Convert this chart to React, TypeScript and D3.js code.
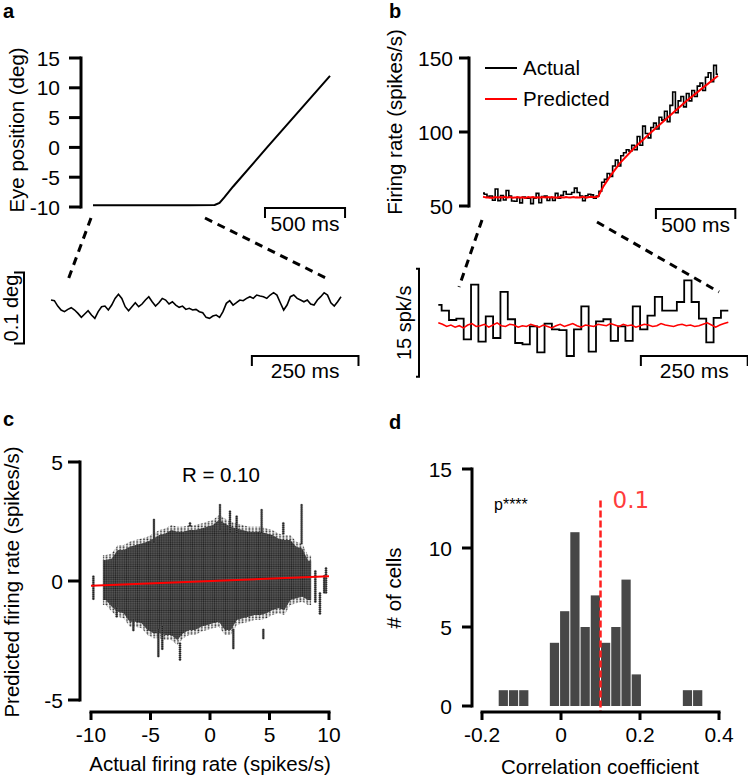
import React from "react";
import * as d3 from "d3";

// ---------------- DATA ----------------
// Panel a (top): eye position (deg) vs time (ms)
const eyeTimes = [0, 200, 400, 600, 760, 790, 820, 874, 1087, 1300, 1480];
const eyeDeg = [-9.7, -9.7, -9.7, -9.7, -9.65, -9.3, -8.4, -6.6, 0, 6.5, 12];
const eyeTicks = [-10, -5, 0, 5, 10, 15];

// Panel a (bottom): zoomed eye position (millideg, relative), evenly sampled over 680 ms
const eyeZoomMdeg = [
  9.4, 8.5, 0.9, -4.7, -7.0, -3.8, -1.4, -4.7, -9.4, -15.0, -10.3, -5.6, -11.7, -16.4, -7.0, 0, 0.9,
  -4.7, 2.3, 11.7, 17.4, 11.7, 0, -5.6, 0, 5.6, 0, 3.8, 9.4, 14.1, 7.0, 0.9, 5.6, 11.7, 9.4, 3.8, 7.0,
  2.3, -0.9, 0.9, -3.8, -2.3, -4.7, -3.8, -7.0, -8.5, -15.0, -16.4, -13.1, -11.7, -15.0, -7.0, 4.7,
  8.5, 2.3, 5.6, 9.4, 8.5, 11.7, 14.1, 11.7, 16.4, 15.0, 14.1, 11.7, 16.4, 19.7, 16.4, 5.6, -4.7, 2.3,
  14.1, 16.4, 11.7, 9.4, 7.0, 9.4, 3.8, 2.3, 9.4, 14.1, 19.7, 16.4, 5.6, 0.9, 7.0, 14.1,
];
const EYE_ZOOM_SPAN_MS = 680;

// Panel b: firing rate (spikes/s). Bins: first partial bin 7.8 ms, then 17.2 ms bins
const FIRST_BIN_MS = 7.8;
const BIN_MS = 17.2;
const actualZoom = [
  58.7, 57.9, 56.6, 56.8, 53.9, 61.5, 53.6, 57.1, 54.1, 60.5, 56.7, 53.4, 53.2, 55.7, 52.1, 56.1,
  55.3, 55.2, 51.6, 55.3, 58.5, 52.2, 56.4, 56.7, 53.7, 55.7, 53.7, 58.5, 55.3, 57.2, 59.8, 57.9,
  57.9, 59.1, 62.1, 59.1, 56.8, 53.5, 56.9, 57.9,
];
const actualFlatExtra = [57.5, 55.2, 56.8];
const actualRise = [
  60, 66, 68, 72, 70, 77, 81, 77, 84, 86, 88, 87, 91, 88, 97, 91, 104, 99, 96, 103, 106, 102, 110,
  108, 114, 107, 118, 127, 113, 121, 124, 117, 126, 121, 128, 124, 131, 133, 128, 137, 140, 134, 145,
  139,
];
const predZoom = [
  56.2, 56.0, 55.7, 55.9, 55.6, 55.8, 55.5, 55.9, 56.1, 55.7, 55.8, 56.0, 55.6, 55.9, 56.2, 55.8,
  55.7, 56.0, 55.9, 55.6, 55.8, 55.7, 56.0, 55.8, 55.6, 55.9, 55.7, 55.5, 55.8, 56.0, 55.7, 55.9,
  56.1, 55.8, 55.6, 55.9, 55.8, 55.7, 56.0, 55.9, 55.8, 56.1, 55.9, 55.7, 56.0, 55.8, 55.9, 55.6,
  55.8, 56.0, 55.9, 55.7, 55.8, 56.1, 55.9, 55.8, 55.7, 55.9, 56.0, 55.8, 55.9, 55.7, 55.8, 56.0,
  56.2, 55.9, 55.6, 55.9, 56.1, 56.3,
];
const predRiseT = [700, 725, 757, 800, 862, 960, 1061, 1176, 1281, 1386, 1480];
const predRiseV = [55.9, 56.3, 63, 70, 79, 90, 100, 111, 121, 130, 138];
const rateTicks = [50, 100, 150];
const TRACE_END_MS = 1480;
const ZOOM_END_MS = 678.6;

// Panel c: scatter cloud envelope per 0.5-wide column (centre, top, bottom), plus sparse stripes
const cloudX = [
  -8.75, -8.25, -7.75, -7.25, -6.75, -6.25, -5.75, -5.25, -4.75, -4.25, -3.75, -3.25, -2.75, -2.25,
  -1.75, -1.25, -0.75, -0.25, 0.25, 0.75, 1.25, 1.75, 2.25, 2.75, 3.25, 3.75, 4.25, 4.75, 5.25, 5.75,
  6.25, 6.75, 7.25, 7.75, 8.25,
];
const cloudTop = [
  0.88, 0.95, 1.3, 1.3, 1.44, 1.51, 1.58, 1.65, 1.79, 1.93, 2.0, 2.14, 2.07, 2.07, 2.14, 2.14, 2.21,
  2.28, 2.35, 2.56, 2.42, 2.28, 2.21, 2.14, 2.07, 2.07, 2.07, 2.0, 1.93, 1.79, 1.72, 1.72, 1.44, 1.37,
  0.85,
];
const cloudBottom = [
  -0.8, -1.08, -1.29, -1.36, -1.71, -1.71, -1.78, -2.06, -2.2, -2.2, -2.27, -2.27, -2.48, -2.2, -2.06,
  -2.06, -1.92, -1.85, -1.78, -1.71, -2.06, -2.06, -1.64, -1.57, -1.5, -1.43, -1.43, -1.36, -1.22,
  -1.15, -1.22, -0.8, -0.73, -0.66, -0.8,
];
const stripeX = [-9.8, -7.84, -6.44, -4.71, -4.34, -4.01, -2.52, -1.68, 0.84, 1.68, 1.96, 2.24, 4.34, 4.48, 6.16, 7.7, 8.85, 9.24, 9.75, 9.6];
const stripeTop = [0.18, -1.15, -1.64, 2.56, -2.06, -1.92, -2.63, 2.42, 3.19, 2.91, -2.06, 2.7, 2.98, -2.06, 2.42, 3.19, 0.4, -0.52, 0.53, 0.2];
const stripeBottom = [-0.8, -1.5, -2.13, 1.58, -3.19, -2.91, -3.33, 2.3, 2.14, 2.0, -2.84, 2.0, 2.0, -2.41, 2.0, 1.58, -0.9, -1.36, -0.52, -0.5];
const fitX = [-10, 10];
const fitY = [-0.2, 0.2];
const cTicksX = [-10, -5, 0, 5, 10];
const cTicksY = [-5, 0, 5];

// Panel d: histogram of correlation coefficients
const HIST_START = -0.159;
const HIST_WIDTH = 0.0259;
const histCounts = [1, 1, 1, 0, 0, 4, 6, 11, 5, 7, 4, 5, 8, 2, 0, 0, 0, 0, 1, 1];
const dTicksX = [-0.2, 0, 0.2, 0.4];
const dTicksY = [0, 5, 10, 15];
const MEAN_R = 0.1;

// ---------------- STYLE ----------------
const FONT = "'Liberation Sans', Arial, Helvetica, sans-serif";
const FS = 20;
const TFS = 21;
const RED = "#ff0000";

function binStart(i: number) {
  return i === 0 ? 0 : FIRST_BIN_MS + (i - 1) * BIN_MS;
}

function stepPts(vals: number[], end: number): [number, number][] {
  const pts: [number, number][] = [];
  vals.forEach((v, i) => {
    const t = binStart(i);
    if (t < end) pts.push([t, v]);
  });
  pts.push([end, pts[pts.length - 1][1]]);
  return pts;
}

function LeftAxis({ scale, x, ticks, len = 12, gap = 9, fmt = (d: number) => String(d) }: any) {
  const [r0, r1] = scale.range();
  return (
    <g>
      <line x1={x} x2={x} y1={Math.min(r0, r1)} y2={Math.max(r0, r1)} stroke="#000" strokeWidth={3} strokeLinecap="square" />
      {ticks.map((t: number) => (
        <g key={t}>
          <line x1={x - len} x2={x} y1={scale(t)} y2={scale(t)} stroke="#000" strokeWidth={3} />
          <text x={x - len - gap} y={scale(t)} dy="0.36em" textAnchor="end" fontSize={TFS} fontFamily={FONT}>
            {fmt(t)}
          </text>
        </g>
      ))}
    </g>
  );
}

function BottomAxis({ scale, y, ticks, len = 8, labelY, fmt = (d: number) => String(d) }: any) {
  const [r0, r1] = scale.range();
  return (
    <g>
      <line x1={r0} x2={r1} y1={y} y2={y} stroke="#000" strokeWidth={3} strokeLinecap="square" />
      {ticks.map((t: number) => (
        <g key={t}>
          <line x1={scale(t)} x2={scale(t)} y1={y} y2={y + len} stroke="#000" strokeWidth={3} />
          <text x={scale(t)} y={labelY} textAnchor="middle" fontSize={TFS} fontFamily={FONT}>
            {fmt(t)}
          </text>
        </g>
      ))}
    </g>
  );
}

function HScaleBar({ x1, x2, y, label, labelY }: any) {
  return (
    <g>
      <path d={`M${x1},${y + 10}V${y}H${x2}V${y + 10}`} fill="none" stroke="#000" strokeWidth={2} />
      <text x={(x1 + x2) / 2} y={labelY} textAnchor="middle" fontSize={TFS} fontFamily={FONT}>
        {label}
      </text>
    </g>
  );
}

function VScaleBar({ x, y1, y2, tick, label, labelX }: any) {
  return (
    <g>
      <path d={`M${x - tick},${y1}H${x}V${y2}H${x - tick}`} fill="none" stroke="#000" strokeWidth={2} />
      <text
        transform={`translate(${labelX},${(y1 + y2) / 2}) rotate(-90)`}
        textAnchor="middle"
        fontSize={FS}
        fontFamily={FONT}
      >
        {label}
      </text>
    </g>
  );
}

function YTitle({ x, y, text }: any) {
  return (
    <text transform={`translate(${x},${y}) rotate(-90)`} textAnchor="middle" fontSize={FS + 0.5} fontFamily={FONT}>
      {text}
    </text>
  );
}

function PanelLabel({ x, y, t }: any) {
  return (
    <text x={x} y={y} fontSize={20} fontWeight="bold" fontFamily={FONT}>
      {t}
    </text>
  );
}

export default function App() {
  // scales
  const xA = d3.scaleLinear().domain([0, TRACE_END_MS]).range([93, 330]);
  const yA = d3.scaleLinear().domain([-10, 15]).range([207, 58]);
  const xAz = d3.scaleLinear().domain([0, EYE_ZOOM_SPAN_MS]).range([51, 341]);
  const yAz = d3.scaleLinear().domain([0, 100]).range([306.7, 235.7]);
  const xB = d3.scaleLinear().domain([0, TRACE_END_MS]).range([483, 718]);
  const yB = d3.scaleLinear().domain([50, 150]).range([206, 58]);
  const xBz = d3.scaleLinear().domain([0, ZOOM_END_MS]).range([438.3, 728.3]);
  const yBz = d3.scaleLinear().domain([56, 71]).range([324.3, 216.3]);
  const xC = d3.scaleLinear().domain([-10, 10]).range([91, 329]);
  const yC = d3.scaleLinear().domain([-5, 5]).range([700, 462]);
  const xD = d3.scaleLinear().domain([-0.2, 0.4]).range([482, 719]);
  const yD = d3.scaleLinear().domain([0, 15]).range([706, 469]);

  // panel a paths
  const eyePath = d3
    .line<number>()
    .x((_, i) => xA(eyeTimes[i]))
    .y((d) => yA(d))(eyeDeg) as string;
  const nz = eyeZoomMdeg.length;
  const eyeZoomPath = d3
    .line<number>()
    .x((_, i) => xAz((i * EYE_ZOOM_SPAN_MS) / (nz - 1)))
    .y((d) => yAz(d))(eyeZoomMdeg) as string;

  // panel b paths
  const stepLineTop = d3
    .line<[number, number]>()
    .x((d) => xB(d[0]))
    .y((d) => yB(d[1]))
    .curve(d3.curveStepAfter);
  const allActual = [...actualZoom, ...actualFlatExtra, ...actualRise];
  const actualTopPath = stepLineTop(stepPts(allActual, TRACE_END_MS)) as string;
  const np = predZoom.length;
  const predTopPts: [number, number][] = [
    ...predZoom.map((v, i) => [(i * 680) / (np - 1), v] as [number, number]),
    ...predRiseT.map((t, i) => [t, predRiseV[i]] as [number, number]),
  ];
  const predTopPath = d3
    .line<[number, number]>()
    .x((d) => xB(d[0]))
    .y((d) => yB(d[1]))(predTopPts) as string;

  const actualZoomPath = d3
    .line<[number, number]>()
    .x((d) => xBz(d[0]))
    .y((d) => yBz(d[1]))
    .curve(d3.curveStepAfter)(stepPts(actualZoom, ZOOM_END_MS)) as string;
  const predZoomPath = d3
    .line<number>()
    .x((_, i) => xBz((i * ZOOM_END_MS) / (np - 1)))
    .y((d) => yBz(d))(predZoom) as string;

  // panel c: cloud envelope as an area (column edges at centre ± 0.25)
  const envPts: { x: number; t: number; b: number }[] = [];
  cloudX.forEach((cx, i) => {
    if (i === 0) envPts.push({ x: cx - 0.25, t: cloudTop[i], b: cloudBottom[i] });
    envPts.push({ x: cx, t: cloudTop[i], b: cloudBottom[i] });
    if (i === cloudX.length - 1) envPts.push({ x: cx + 0.25, t: cloudTop[i], b: cloudBottom[i] });
  });
  const coreArea = d3
    .area<{ x: number; t: number; b: number }>()
    .x((d) => xC(d.x))
    .y0((d) => yC(d.b))
    .y1((d) => yC(d.t))(envPts) as string;
  const fringeArea = d3
    .area<{ x: number; t: number; b: number }>()
    .x((d) => xC(d.x))
    .y0((d) => yC(d.b) + 5)
    .y1((d) => yC(d.t) - 5)(envPts) as string;
  const stripeDots: [number, number][] = [];
  stripeX.forEach((sx, i) => {
    const px = xC(sx);
    for (let py = yC(stripeTop[i]); py <= yC(stripeBottom[i]) + 0.01; py += 2) stripeDots.push([px, py]);
  });

  return (
    <div style={{ position: "absolute", left: 0, top: 0 }}>
      <svg width={748} height={778} style={{ display: "block", background: "#fff" }}>
        <defs>
          <pattern id="dotsDense" width={2.2} height={2.2} patternUnits="userSpaceOnUse">
            <rect width={2.2} height={2.2} fill="#5e5e5e" />
            <circle cx={1.1} cy={1.1} r={0.85} fill="#222" />
          </pattern>
          <pattern id="dotsSparse" width={3.4} height={2.6} patternUnits="userSpaceOnUse">
            <circle cx={1.2} cy={1.2} r={1.0} fill="#2a2a2a" stroke="#999" strokeWidth={0.3} />
          </pattern>
        </defs>

        {/* ---------- Panel a ---------- */}
        <PanelLabel x={3} y={18} t="a" />
        <LeftAxis scale={yA} x={81} ticks={eyeTicks} />
        <YTitle x={24} y={130} text="Eye position (deg)" />
        <path d={eyePath} fill="none" stroke="#000" strokeWidth={2} />
        <HScaleBar x1={xA(1074)} x2={xA(1574)} y={208} label="500 ms" labelY={231} />
        <line x1={91} y1={218} x2={68} y2={280} stroke="#000" strokeWidth={3} strokeDasharray="8,6" />
        <line x1={205} y1={218} x2={330} y2={280} stroke="#000" strokeWidth={3} strokeDasharray="8,6" />
        <path d={eyeZoomPath} fill="none" stroke="#000" strokeWidth={1.6} />
        <VScaleBar x={24} y1={yAz(48)} y2={yAz(-52)} tick={10} label="0.1 deg" labelX={18} />
        <HScaleBar x1={xAz(471)} x2={xAz(721)} y={356} label="250 ms" labelY={378} />

        {/* ---------- Panel b ---------- */}
        <PanelLabel x={389} y={18} t="b" />
        <LeftAxis scale={yB} x={469} ticks={rateTicks} len={10} gap={6} />
        <YTitle x={402} y={122} text="Firing rate (spikes/s)" />
        <path d={actualTopPath} fill="none" stroke="#000" strokeWidth={1.6} />
        <path d={predTopPath} fill="none" stroke={RED} strokeWidth={2} />
        <line x1={485} x2={517} y1={68} y2={68} stroke="#000" strokeWidth={2} />
        <text x={523} y={75} fontSize={FS + 0.5} fontFamily={FONT}>
          Actual
        </text>
        <line x1={485} x2={517} y1={99} y2={99} stroke={RED} strokeWidth={2} />
        <text x={523} y={106} fontSize={FS + 0.5} fontFamily={FONT}>
          Predicted
        </text>
        <HScaleBar x1={xB(1089)} x2={xB(1589)} y={209} label="500 ms" labelY={232} />
        <line x1={482} y1={220} x2={459} y2={287} stroke="#000" strokeWidth={3} strokeDasharray="8,6" />
        <line x1={597} y1={222} x2={719} y2={292} stroke="#000" strokeWidth={3} strokeDasharray="8,6" />
        <path d={actualZoomPath} fill="none" stroke="#000" strokeWidth={1.8} />
        <path d={predZoomPath} fill="none" stroke={RED} strokeWidth={1.6} />
        <VScaleBar x={419} y1={yBz(63.7)} y2={yBz(48.7)} tick={3} label="15 spk/s" labelX={411} />
        <HScaleBar x1={xBz(474)} x2={xBz(724)} y={356} label="250 ms" labelY={378} />

        {/* ---------- Panel c ---------- */}
        <PanelLabel x={3} y={426} t="c" />
        <path d={fringeArea} fill="url(#dotsSparse)" />
        <path d={coreArea} fill="url(#dotsDense)" />
        <g>
          {stripeDots.map((p, i) => (
            <circle key={i} cx={p[0]} cy={p[1]} r={1.2} fill="#1e1e1e" stroke="#8a8a8a" strokeWidth={0.3} />
          ))}
        </g>
        <line x1={xC(fitX[0])} y1={yC(fitY[0])} x2={xC(fitX[1])} y2={yC(fitY[1])} stroke={RED} strokeWidth={2} />
        <LeftAxis scale={yC} x={80} ticks={cTicksY} len={12} gap={5} />
        <BottomAxis scale={xC} y={712} ticks={cTicksX} labelY={742} />
        <YTitle x={19} y={582} text="Predicted firing rate (spikes/s)" />
        <text x={210} y={771} textAnchor="middle" fontSize={FS + 0.5} fontFamily={FONT}>
          Actual firing rate (spikes/s)
        </text>
        <text x={221} y={482} textAnchor="middle" fontSize={FS + 0.5} fontFamily={FONT}>
          R = 0.10
        </text>

        {/* ---------- Panel d ---------- */}
        <PanelLabel x={389} y={429} t="d" />
        <g>
          {histCounts.map((c, i) =>
            c > 0 ? (
              <rect
                key={i}
                x={xD(HIST_START + i * HIST_WIDTH) + 0.5}
                y={yD(c)}
                width={xD(HIST_START + (i + 1) * HIST_WIDTH) - xD(HIST_START + i * HIST_WIDTH) - 1}
                height={yD(0) - yD(c)}
                fill="#474747"
              />
            ) : null
          )}
        </g>
        <line x1={xD(MEAN_R)} x2={xD(MEAN_R)} y1={yD(13)} y2={712} stroke="#ff1f1f" strokeWidth={2.5} strokeDasharray="7,3" />
        <text x={xD(MEAN_R) + 12} y={508} fontSize={23} fontFamily="'DejaVu Sans', sans-serif" fill="#ff3c3c">
          0.1
        </text>
        <text x={494} y={510} fontSize={16} fontFamily={FONT}>
          p****
        </text>
        <LeftAxis scale={yD} x={472} ticks={dTicksY} len={10} gap={10} />
        <BottomAxis scale={xD} y={712} ticks={dTicksX} labelY={742} />
        <YTitle x={401} y={588} text="# of cells" />
        <text x={600} y={774} textAnchor="middle" fontSize={FS + 0.5} fontFamily={FONT}>
          Correlation coefficient
        </text>
      </svg>
    </div>
  );
}
